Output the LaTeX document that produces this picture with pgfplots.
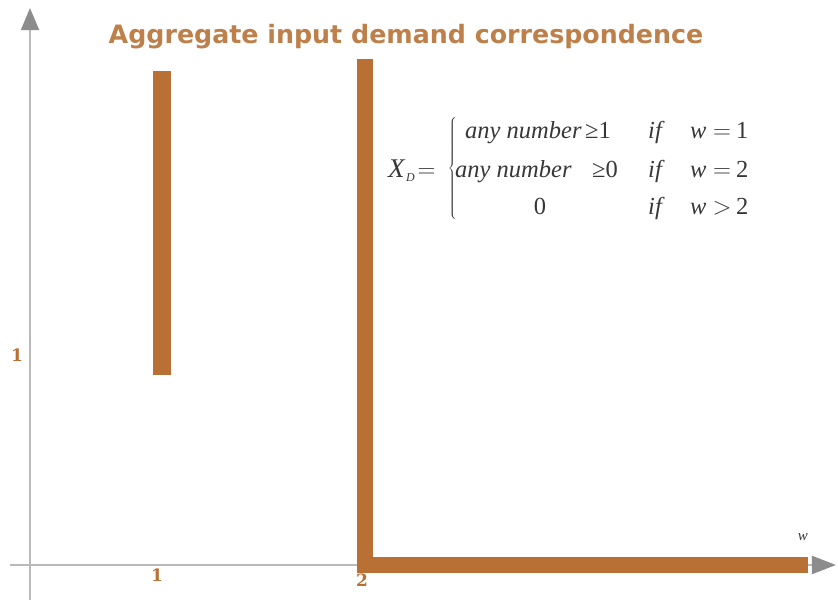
\documentclass[border=0pt]{standalone}
\usepackage{fontspec}
\setmainfont{Liberation Serif}
\newfontfamily\titlefont{DejaVu Sans}
\newfontfamily\tickfont{DejaVu Serif}
\usepackage{pgfplots}
\pgfplotsset{compat=1.18}
\usetikzlibrary{arrows.meta}
\definecolor{barc}{RGB}{184,112,52}
\definecolor{titlec}{RGB}{190,128,74}
\definecolor{axline}{RGB}{185,185,185}
\definecolor{axarrow}{RGB}{140,140,140}
\definecolor{formc}{RGB}{55,55,55}
\begin{document}
\begin{tikzpicture}
\begin{axis}[
  scale only axis, width=838pt, height=604pt,
  xmin=0.2341, xmax=4.3220, ymin=-0.1857, ymax=2.6905,
  hide axis, clip=false,
]
% fixed frame so the picture keeps the reference's extent
\path[draw=none] (rel axis cs:0,0) rectangle (rel axis cs:1,1);
% axes
\draw[axline, line width=2pt, -{Triangle[width=18pt,length=22pt,color=axarrow]}]
  (axis cs:0.3805,-0.167) -- (axis cs:0.3805,2.652);
\draw[axline, line width=2pt, -{Triangle[width=18pt,length=24pt,color=axarrow]}]
  (axis cs:0.2829,0) -- (axis cs:4.312,0);
% demand correspondence
\addplot[barc, line width=18pt, line cap=butt] coordinates {(1.0244,0.905) (1.0244,2.352)};
\addplot[barc, line width=16.5pt, line cap=butt, line join=miter] coordinates {(2.0146,2.409) (2.0146,0) (4.176,0)};
% labels
\node[titlec, anchor=base, font=\titlefont\bfseries\fontsize{25.3}{30}\selectfont] at (axis cs:2.2146,2.481) {Aggregate input demand correspondence};
\node[barc, font=\tickfont\bfseries\fontsize{17}{20}\selectfont] at (axis cs:1,-0.0476) {1};
\node[barc, font=\tickfont\bfseries\fontsize{17}{20}\selectfont] at (axis cs:2,-0.0714) {2};
\node[barc, font=\tickfont\bfseries\fontsize{17}{20}\selectfont] at (axis cs:0.3171,1.0) {1};
\node[formc, font=\fontsize{15}{18}\selectfont\itshape] at (axis cs:4.1512,0.1333) {w};
% formula
\begin{scope}[every node/.style={formc, inner sep=0pt, font=\fontsize{24.5}{29}\selectfont}]
\node[anchor=base west, font=\fontsize{27}{32}\selectfont] at (axis cs:2.1268,1.8476) {\textit{X}};
\node[anchor=base west, font=\fontsize{12}{14}\selectfont] at (axis cs:2.2146,1.8238) {\textit{D}};
\node[anchor=base, font=\fontsize{26}{32}\selectfont] at (axis cs:2.3146,1.8476) {$=$};
\node at (axis cs:2.4439,1.8857) {$\left\{\rule{0pt}{57pt}\right.$};
\node[anchor=base west] at (axis cs:2.5024,2.0286) {\textit{any number}};
\node[anchor=base west] at (axis cs:3.0878,2.0286) {≥1};
\node[anchor=base west] at (axis cs:2.4537,1.8476) {\textit{any number}};
\node[anchor=base west] at (axis cs:3.1220,1.8476) {≥0};
\node[anchor=base] at (axis cs:2.8683,1.6667) {0};
\node[anchor=base west] at (axis cs:3.3951,2.0286) {\textit{if}};
\node[anchor=base west] at (axis cs:3.3951,1.8476) {\textit{if}};
\node[anchor=base west] at (axis cs:3.3951,1.6667) {\textit{if}};
\node[anchor=base west] at (axis cs:3.6000,2.0286) {\textit{w}};
\node[anchor=base west] at (axis cs:3.6000,1.8476) {\textit{w}};
\node[anchor=base west] at (axis cs:3.6000,1.6667) {\textit{w}};
\node[anchor=base, font=\fontsize{26}{30}\selectfont] at (axis cs:3.7561,2.0286) {$=$};
\node[anchor=base, font=\fontsize{26}{30}\selectfont] at (axis cs:3.7561,1.8476) {$=$};
\node[anchor=base, font=\fontsize{26}{30}\selectfont] at (axis cs:3.7561,1.6667) {$>$};
\node[anchor=base west] at (axis cs:3.8244,2.0286) {1};
\node[anchor=base west] at (axis cs:3.8244,1.8476) {2};
\node[anchor=base west] at (axis cs:3.8244,1.6667) {2};
\end{scope}
\end{axis}
\end{tikzpicture}
\end{document}
